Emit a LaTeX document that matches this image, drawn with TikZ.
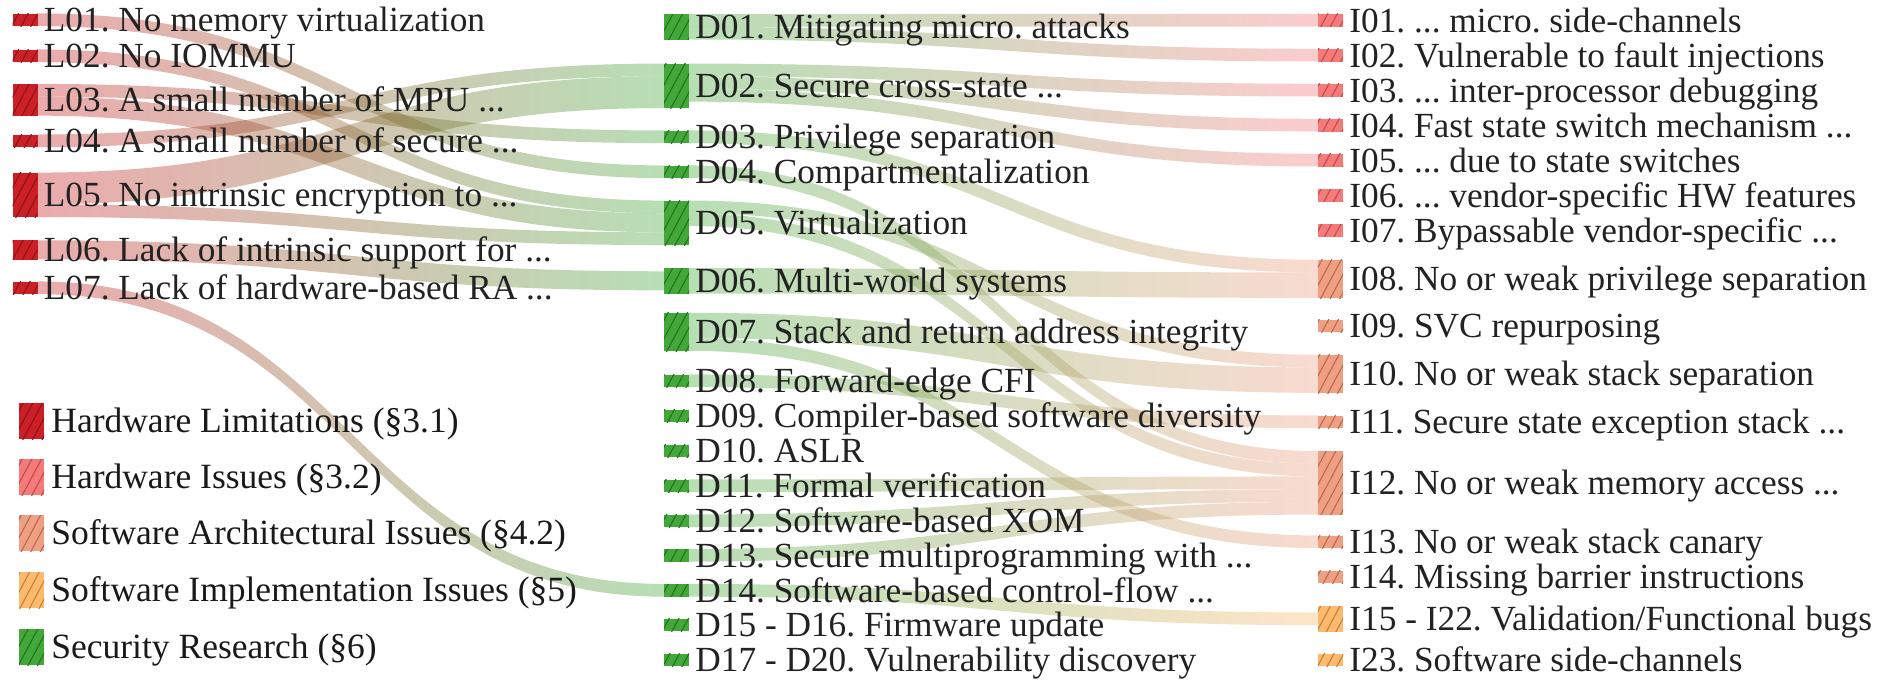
\documentclass[tikz,border=0pt]{standalone}
\usepackage{fontspec}
\setmainfont{Liberation Serif}
\usetikzlibrary{calc,patterns.meta}
\definecolor{cHL}{RGB}{204,32,38}
\definecolor{cHLd}{RGB}{140,20,25}
\definecolor{cHI}{RGB}{245,122,122}
\definecolor{cHId}{RGB}{195,75,75}
\definecolor{cSA}{RGB}{240,160,130}
\definecolor{cSAd}{RGB}{185,105,80}
\definecolor{cSI}{RGB}{253,185,110}
\definecolor{cSId}{RGB}{195,130,55}
\definecolor{cSR}{RGB}{67,168,58}
\definecolor{cSRd}{RGB}{35,115,30}
\definecolor{txt}{RGB}{34,34,34}
\def\U{12.7}
\frenchspacing
\tikzset{
  barbase/.style={rectangle, inner sep=0pt, minimum width=25pt, draw=none},
  bh/.style={minimum height=#1*12.7pt},
  hatch/.style={postaction={pattern={Lines[angle=62,distance=8.5pt,line width=1.1pt]},pattern color=#1}},
  hlbar/.style={barbase, fill=cHL, hatch=cHLd, bh=1},
  hibar/.style={barbase, fill=cHI, hatch=cHId, bh=1},
  sabar/.style={barbase, fill=cSA, hatch=cSAd, bh=1},
  sibar/.style={barbase, fill=cSI, hatch=cSId, bh=1},
  srbar/.style={barbase, fill=cSR, hatch=cSRd, bh=1},
  lbl/.style={anchor=base west, inner sep=0pt, text=txt, font=\fontsize{35.3}{35.3}\selectfont\frenchspacing},
  leg/.style={anchor=base west, inner sep=0pt, text=black!90, font=\fontsize{35.5}{35.5}\selectfont\frenchspacing},
  band/.style={opacity=0.38},
}
\newcommand\sflow[7]{%
  \path ([yshift={-(#2)*\U}]#1.north east) coordinate (fa)
        ([yshift={-(#4)*\U}]#3.north west) coordinate (fb)
        ([yshift={-(#2)*\U-(#5)*\U}]#1.north east) coordinate (fc)
        ([yshift={-(#4)*\U-(#5)*\U}]#3.north west) coordinate (fd);
  \path ($(fa)!0.5!(fb)$) coordinate (fm);
  \shade[band, left color=#6, right color=#7]
    (fa) .. controls (fa -| fm) and (fb -| fm) .. (fb) -- (fd)
    .. controls (fd -| fm) and (fc -| fm) .. (fc) -- cycle;
}
\newcommand\lab[2]{\node[lbl] (t#1) at ([xshift=6pt,yshift=-11.7pt]#1.east) {#2};}
\begin{document}
\begin{tikzpicture}[x=1pt,y=-1pt]
\useasboundingbox (0,0) rectangle (1877,682);
% ---------- left column bars
\node[hlbar] (L01) at (25,20) {};
\node[hlbar] (L02) at (25,56) {};
\node[hlbar, bh=2.5] (L03) at (25,100) {};
\node[hlbar] (L04) at (25,141) {};
\node[hlbar, bh=3.5] (L05) at (25,195) {};
\node[hlbar, bh=1.5] (L06) at (25,250) {};
\node[hlbar] (L07) at (25,288) {};
% ---------- middle column bars
\node[srbar, bh=2] (D01) at (676.5,27) {};
\node[srbar, bh=3.5] (D02) at (676.5,86) {};
\node[srbar] (D03) at (676.5,137) {};
\node[srbar] (D04) at (676.5,172) {};
\node[srbar, bh=3.5] (D05) at (676.5,223) {};
\node[srbar, bh=2] (D06) at (676.5,281) {};
\node[srbar, bh=3] (D07) at (676.5,332) {};
\node[srbar] (D08) at (676.5,381) {};
\node[srbar] (D09) at (676.5,416) {};
\node[srbar] (D10) at (676.5,451) {};
\node[srbar] (D11) at (676.5,486) {};
\node[srbar] (D12) at (676.5,521) {};
\node[srbar] (D13) at (676.5,555.5) {};
\node[srbar] (D14) at (676.5,590.5) {};
\node[srbar] (D15) at (676.5,625) {};
\node[srbar] (D17) at (676.5,660) {};
% ---------- right column bars
\node[hibar] (I01) at (1330.5,20.35) {};
\node[hibar] (I02) at (1330.5,55.35) {};
\node[hibar] (I03) at (1330.5,90.35) {};
\node[hibar] (I04) at (1330.5,125.35) {};
\node[hibar] (I05) at (1330.5,160.35) {};
\node[hibar] (I06) at (1330.5,195.35) {};
\node[hibar] (I07) at (1330.5,230.35) {};
\node[sabar, bh=3] (I08) at (1330.5,279) {};
\node[sabar] (I09) at (1330.5,326) {};
\node[sabar, bh=3] (I10) at (1330.5,374) {};
\node[sabar] (I11) at (1330.5,422) {};
\node[sabar, bh=5] (I12) at (1330.5,483) {};
\node[sabar] (I13) at (1330.5,542) {};
\node[sabar] (I14) at (1330.5,577) {};
\node[sibar, bh=2] (I15) at (1330.5,619) {};
\node[sibar] (I23) at (1330.5,660) {};
% ---------- flows left -> middle
\sflow{L01}{0}{D04}{0}{1}{cHL}{cSR}
\sflow{L02}{0}{D05}{0}{1}{cHL}{cSR}
\sflow{L03}{0}{D03}{0}{1}{cHL}{cSR}
\sflow{L03}{1}{D05}{1}{1.5}{cHL}{cSR}
\sflow{L04}{0}{D02}{0}{1}{cHL}{cSR}
\sflow{L05}{0}{D02}{1}{2.5}{cHL}{cSR}
\sflow{L05}{2.5}{D05}{2.5}{1}{cHL}{cSR}
\sflow{L06}{0}{D06}{0.25}{1.5}{cHL}{cSR}
\sflow{L07}{0}{D14}{0}{1}{cHL}{cSR}
% ---------- flows middle -> right
\sflow{D01}{0}{I01}{0}{1}{cSR}{cHI}
\sflow{D01}{1}{I02}{0}{1}{cSR}{cHI}
\sflow{D02}{0}{I03}{0}{1}{cSR}{cHI}
\sflow{D02}{1}{I04}{0}{1}{cSR}{cHI}
\sflow{D02}{2}{I05}{0}{1}{cSR}{cHI}
\sflow{D03}{0}{I08}{0}{1}{cSR}{cSA}
\sflow{D04}{0}{I12}{0}{1}{cSR}{cSA}
\sflow{D05}{0}{I10}{0}{1}{cSR}{cSA}
\sflow{D05}{1}{I12}{1}{1}{cSR}{cSA}
\sflow{D06}{0}{I08}{1}{2}{cSR}{cSA}
\sflow{D07}{0}{I10}{1}{2}{cSR}{cSA}
\sflow{D07}{2}{I13}{0}{1}{cSR}{cSA}
\sflow{D08}{0}{I11}{0}{1}{cSR}{cSA}
\sflow{D11}{0}{I12}{2}{1}{cSR}{cSA}
\sflow{D12}{0}{I12}{3}{1}{cSR}{cSA}
\sflow{D13}{0}{I12}{4}{1}{cSR}{cSA}
\sflow{D14}{0}{I15}{0.5}{1}{cSR}{cSI}
% ---------- labels
\lab{L01}{L01. No memory virtualization}
\lab{L02}{L02. No IOMMU}
\lab{L03}{L03. A small number of MPU ...}
\lab{L04}{L04. A small number of secure ...}
\lab{L05}{L05. No intrinsic encryption to ...}
\lab{L06}{L06. Lack of intrinsic support for ...}
\lab{L07}{L07. Lack of hardware-based RA ...}
\lab{D01}{D01. Mitigating micro. attacks}
\lab{D02}{D02. Secure cross-state ...}
\lab{D03}{D03. Privilege separation}
\lab{D04}{D04. Compartmentalization}
\lab{D05}{D05. Virtualization}
\lab{D06}{D06. Multi-world systems}
\lab{D07}{D07. Stack and return address integrity}
\lab{D08}{D08. Forward-edge CFI}
\lab{D09}{D09. Compiler-based software diversity}
\lab{D10}{D10. ASLR}
\lab{D11}{D11. Formal verification}
\lab{D12}{D12. Software-based XOM}
\lab{D13}{D13. Secure multiprogramming with ...}
\lab{D14}{D14. Software-based control-flow ...}
\lab{D15}{D15 - D16. Firmware update}
\lab{D17}{D17 - D20. Vulnerability discovery}
\lab{I01}{I01. ... micro. side-channels}
\lab{I02}{I02. Vulnerable to fault injections}
\lab{I03}{I03. ... inter-processor debugging}
\lab{I04}{I04. Fast state switch mechanism ...}
\lab{I05}{I05. ... due to state switches}
\lab{I06}{I06. ... vendor-specific HW features}
\lab{I07}{I07. Bypassable vendor-specific ...}
\lab{I08}{I08. No or weak privilege separation}
\lab{I09}{I09. SVC repurposing}
\lab{I10}{I10. No or weak stack separation}
\lab{I11}{I11. Secure state exception stack ...}
\lab{I12}{I12. No or weak memory access ...}
\lab{I13}{I13. No or weak stack canary}
\lab{I14}{I14. Missing barrier instructions}
\lab{I15}{I15 - I22. Validation/Functional bugs}
\lab{I23}{I23. Software side-channels}
% ---------- legend
\node[hlbar, minimum height=36pt] (G1) at (31.5,421) {};
\node[hibar, minimum height=36pt] (G2) at (31.5,477) {};
\node[sabar, minimum height=36pt] (G3) at (31.5,533) {};
\node[sibar, minimum height=36pt] (G4) at (31.5,590) {};
\node[srbar, minimum height=36pt] (G5) at (31.5,647) {};
\node[leg] (tG1) at ([xshift=7pt,yshift=-11.5pt]G1.east) {Hardware Limitations (§3.1)};
\node[leg] (tG2) at ([xshift=7pt,yshift=-11.5pt]G2.east) {Hardware Issues (§3.2)};
\node[leg] (tG3) at ([xshift=7pt,yshift=-11.5pt]G3.east) {Software Architectural Issues (§4.2)};
\node[leg] (tG4) at ([xshift=7pt,yshift=-11.5pt]G4.east) {Software Implementation Issues (§5)};
\node[leg] (tG5) at ([xshift=7pt,yshift=-11.5pt]G5.east) {Security Research (§6)};
\end{tikzpicture}
\end{document}
